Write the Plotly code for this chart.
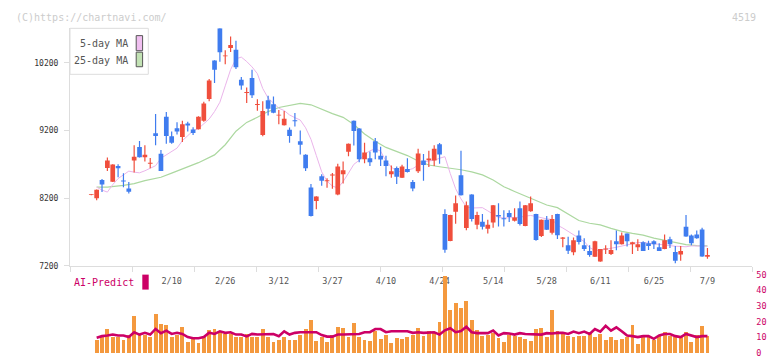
import plotly.graph_objects as go

# ---------------- data ----------------
opens = [8250, 8200, 8469, 8645, 8444, 8674, 8460, 8344, 8756, 8958,
         8805, 8715, 9158, 8857, 9403, 9115, 9235, 9105, 9302, 9216,
         9220, 9345, 9666, 10236, 10710, 10300, 10418, 10395, 9949, 9760,
         9978, 9583, 9135, 9647, 9590, 9425, 9278, 9211, 9350, 9043,
         8842, 8358, 8157, 8526, 8455, 8540, 8253, 8555, 8886, 9345,
         9231, 8776, 8790, 9043, 8828, 8756, 8555, 8645, 8502, 8631,
         8440, 8598, 8756, 8760, 8756, 8996, 7966, 7568, 7999, 8540,
         7760, 8253, 7808, 7851, 7750, 7841, 7951, 7900, 7980, 7865,
         8052, 7789, 8009, 7966, 7640, 7880, 7688, 7966, 7602, 7506,
         7400, 7650, 7506, 7420, 7334, 7266, 7445, 7377, 7564, 7520,
         7678, 7520, 7477, 7549, 7535, 7564, 7477, 7449, 7592, 7405,
         7367, 7779, 7650, 7664, 7736, 7334]
highs = [8260, 8330, 8483, 8800, 8700, 8703, 8570, 8440, 8982, 9044,
         8982, 8795, 9446, 8914, 9475, 9187, 9321, 9345, 9331, 9249,
         9410, 9625, 9963, 10240, 10710, 10385, 10591, 10528, 9992, 9834,
         10097, 9662, 9633, 9715, 9704, 9503, 9489, 9245, 9460, 9202,
         8851, 8411, 8230, 8555, 8493, 8574, 8709, 8742, 9010, 9350,
         9235, 9019, 8890, 9091, 8962, 8828, 8684, 8670, 8694, 8790,
         8469, 8929, 8852, 8900, 8982, 9015, 8038, 7955, 8239, 8900,
         8153, 8258, 7999, 7966, 7880, 8100, 8124, 8023, 8023, 8052,
         8153, 8100, 8225, 7970, 7885, 7937, 7951, 7970, 7625, 7631,
         7621, 7722, 7607, 7506, 7570, 7449, 7506, 7578, 7722, 7693,
         7680, 7555, 7592, 7564, 7573, 7578, 7535, 7664, 7630, 7492,
         7492, 7951, 7664, 7722, 7765, 7463]
lows = [8245, 8170, 8290, 8603, 8440, 8508, 8360, 8268, 8580, 8800,
        8742, 8641, 8982, 8603, 9005, 9005, 9140, 9029, 9187, 9134,
        9215, 9330, 9633, 9902, 10218, 10179, 10362, 10111, 9801, 9608,
        9680, 9494, 9115, 9422, 9455, 9292, 9275, 9019, 9259, 8847,
        8603, 7930, 8038, 8383, 8354, 8340, 8243, 8416, 8819, 8977,
        8732, 8718, 8675, 8776, 8675, 8526, 8502, 8411, 8500, 8579,
        8301, 8574, 8459, 8660, 8675, 8709, 7395, 7565, 7822, 8240,
        7726, 7855, 7740, 7736, 7678, 7765, 7783, 7783, 7847, 7855,
        7798, 7785, 8000, 7570, 7625, 7730, 7664, 7596, 7477, 7377,
        7358, 7516, 7420, 7334, 7330, 7262, 7377, 7362, 7430, 7515,
        7487, 7377, 7420, 7418, 7434, 7449, 7418, 7445, 7463, 7237,
        7276, 7630, 7506, 7600, 7335, 7305]
closes = [8255, 8325, 8401, 8756, 8699, 8641, 8450, 8296, 8814, 8805,
          8842, 8720, 9120, 8603, 9120, 9019, 9187, 9292, 9275, 9163,
          9403, 9601, 9939, 10097, 10356, 10306, 10462, 10136, 9867, 9765,
          9723, 9588, 9489, 9522, 9461, 9430, 9374, 9120, 9340, 8990,
          8641, 7937, 8225, 8459, 8462, 8548, 8670, 8612, 9005, 9192,
          8776, 8876, 8732, 8876, 8771, 8675, 8598, 8516, 8670, 8588,
          8344, 8862, 8689, 8785, 8929, 8847, 7439, 7951, 8124, 8243,
          8095, 7894, 7951, 7779, 7808, 8095, 7930, 7890, 7923, 7913,
          7818, 8095, 8124, 7583, 7880, 7732, 7894, 7654, 7621, 7425,
          7578, 7553, 7449, 7362, 7564, 7449, 7452, 7434, 7520, 7650,
          7564, 7549, 7520, 7420, 7492, 7520, 7420, 7578, 7520, 7276,
          7420, 7635, 7535, 7607, 7338, 7362]

volume = [None, 8.9, 10.4, 15.8, 10.8, 10.6, 8.9, 12.0, 23.6, 12.0,
          11.6, 10.8, 24.9, 18.7, 18.0, 10.6, 11.8, 16.8, 7.5, 10.6,
          6.8, 10.2, 15.1, 15.8, 14.1, 12.6, 12.6, 10.8, 10.6, 12.6,
          10.8, 10.2, 15.8, 10.8, 7.5, 8.7, 10.8, 8.7, 8.7, 12.0,
          15.8, 21.1, 8.1, 10.8, 7.5, 11.8, 16.8, 16.2, 10.8, 19.3,
          10.8, 8.7, 8.1, 14.1, 9.3, 12.0, 6.8, 10.0, 9.3, 10.8,
          12.0, 16.2, 11.2, 14.3, 13.7, 19.9, 49.1, 28.0, 32.3, 29.2,
          33.6, 21.1, 14.9, 11.2, 11.8, 13.0, 10.0, 7.5, 12.0, 11.2,
          10.6, 9.3, 8.1, 15.5, 16.2, 10.2, 27.4, 14.3, 13.7, 11.4,
          10.6, 11.2, 11.4, 13.7, 10.6, 12.4, 8.7, 10.6, 8.7, 9.5,
          10.6, 18.0, 6.2, 11.8, 10.6, 8.7, 11.4, 13.7, 11.2, 10.6,
          11.2, 13.7, 7.5, 11.8, 17.4, 11.2]

ai_predict = [None, 9.8, 10.8, 11.2, 11.8, 11.2, 11.2, 10.2, 13.3, 11.8,
              12.9, 11.8, 15.4, 12.7, 14.3, 12.2, 12.9, 12.2, 10.2, 9.5,
              9.5, 10.2, 13.0, 12.2, 13.9, 12.9, 13.3, 11.8, 11.8, 10.6,
              12.2, 11.8, 11.8, 11.8, 12.2, 10.8, 13.9, 11.8, 12.9, 13.3,
              13.3, 13.3, 13.3, 11.5, 10.5, 10.5, 11.8, 11.8, 11.8, 11.8,
              12.2, 13.3, 13.3, 15.3, 15.3, 13.3, 13.9, 13.9, 13.9, 13.9,
              12.9, 13.3, 12.9, 12.9, 13.3, 11.8, 14.5, 15.8, 13.3, 14.0,
              16.8, 13.3, 12.7, 12.7, 12.7, 14.3, 11.2, 12.7, 12.5, 11.8,
              12.7, 12.2, 12.2, 12.2, 11.8, 12.7, 12.5, 12.9, 12.9, 12.2,
              13.7, 12.7, 13.7, 12.2, 15.3, 13.7, 17.4, 14.3, 16.4, 13.9,
              11.2, 10.8, 10.2, 10.8, 10.8, 9.1, 11.2, 12.2, 12.2, 10.8,
              10.2, 12.2, 11.2, 10.2, 10.8, 10.8]

ma5_idx = list(range(1, 116))
ma5 = [8364, 8320, 8290, 8400, 8490, 8550, 8600, 8585, 8575, 8605,
       8640, 8680, 8790, 8840, 8900, 8940, 9050, 9120, 9197, 9230,
       9300, 9370, 9480, 9618, 9860, 10100, 10260, 10285, 10220, 10140,
       10040, 9820, 9680, 9600, 9530, 9495, 9430, 9390, 9355, 9240,
       9070, 8830, 8590, 8450, 8380, 8350, 8445, 8570, 8700, 8760,
       8850, 8900, 8930, 8895, 8750, 8660, 8600, 8590, 8610, 8637,
       8690, 8732, 8750, 8760, 8790, 8814, 8564, 8340, 8190, 8070,
       8055, 8062, 8060, 8013, 7960, 7915, 7908, 7910, 7912, 7918,
       7935, 7945, 7930, 7910, 7894, 7885, 7800, 7760, 7710, 7664,
       7610, 7560, 7470, 7430, 7430, 7440, 7460, 7475, 7495, 7515,
       7530, 7545, 7545, 7535, 7525, 7515, 7505, 7500, 7490, 7487,
       7482, 7495, 7498, 7492, 7490]

ma25_idx = [1, 3, 6, 8, 10, 13, 15, 18, 20, 23, 25, 27, 29, 31, 33, 35, 37,
            39, 41, 43, 45, 47, 49, 51, 53, 55, 57, 59, 61, 63, 65, 67, 69,
            71, 73, 75, 77, 79, 81, 83, 85, 87, 89, 91, 93, 95, 97, 99, 101,
            103, 105, 107, 109, 111, 113, 115]
ma25 = [8364, 8364, 8390, 8415, 8460, 8510, 8570, 8665, 8725, 8840, 8990,
        9190, 9320, 9395, 9480, 9540, 9570, 9600, 9580, 9510, 9450, 9395,
        9290, 9150, 9040, 8950, 8890, 8830, 8750, 8690, 8665, 8648, 8620,
        8590, 8545, 8470, 8370, 8300, 8230, 8170, 8100, 8060, 7970, 7870,
        7830, 7805, 7755, 7710, 7680, 7655, 7610, 7575, 7540, 7515, 7500,
        7496]

date_idx = [15, 25, 35, 45, 55, 65, 75, 85, 95, 105, 115]
date_labels = ["2/10", "2/26", "3/12", "3/27", "4/10", "4/24",
               "5/14", "5/28", "6/11", "6/25", "7/9"]

price_ticks = [7200, 8200, 9200, 10200]
price_tick_text = ["7200", "8200", "9200", "10200"]
ai_ticks = [0, 10, 20, 30, 40, 50]

# ---------------- styling ----------------
W, H = 772, 361
FONT = "DejaVu Sans Mono"
RED = "#f04e3c"
BLUE = "#3f7cef"
ORANGE = "#f4993e"
CRIMSON = "#cc0066"
AXIS = "#dddddd"


def px(x):
    return x / W


def py(y):
    return 1 - y / H


XMIN, XMAX = -3.975, 123.37
n = len(opens)
idx = list(range(n))

# wick and body segments built from the OHLC arrays
wick = {"up": ([], []), "down": ([], [])}
body = {"up": ([], []), "down": ([], [])}
MIN_BODY = 14
for i in idx:
    o, h, l, c = opens[i], highs[i], lows[i], closes[i]
    k = "up" if c >= o else "down"
    wick[k][0].extend([i, i, None])
    wick[k][1].extend([l, h, None])
    lo, hi = min(o, c), max(o, c)
    if hi - lo < MIN_BODY:
        mid = (hi + lo) / 2
        lo, hi = mid - MIN_BODY / 2, mid + MIN_BODY / 2
    body[k][0].extend([i, i, None])
    body[k][1].extend([lo, hi, None])

fig = go.Figure()
fig.add_trace(go.Scatter(x=ma25_idx, y=ma25, mode="lines",
                         line=dict(color="#acd8a0", width=1.2),
                         xaxis="x", yaxis="y", hoverinfo="skip"))
fig.add_trace(go.Scatter(x=ma5_idx, y=ma5, mode="lines",
                         line=dict(color="#eab4ea", width=1),
                         xaxis="x", yaxis="y", hoverinfo="skip"))
for k, col in (("up", RED), ("down", BLUE)):
    fig.add_trace(go.Scatter(x=wick[k][0], y=wick[k][1], mode="lines",
                             line=dict(color=col, width=1.2),
                             xaxis="x", yaxis="y", hoverinfo="skip"))
for k, col in (("up", RED), ("down", BLUE)):
    fig.add_trace(go.Scatter(x=body[k][0], y=body[k][1], mode="lines",
                             line=dict(color=col, width=4.7),
                             xaxis="x", yaxis="y", hoverinfo="skip"))

fig.add_trace(go.Bar(x=idx, y=volume, width=0.72,
                     marker=dict(color=ORANGE, line=dict(width=0)),
                     xaxis="x2", yaxis="y2", hoverinfo="skip"))
fig.add_trace(go.Scatter(x=idx, y=ai_predict, mode="lines",
                         line=dict(color=CRIMSON, width=2.6),
                         xaxis="x2", yaxis="y2", hoverinfo="skip"))

dom_x = [px(70), px(752.3)]
step = (XMAX - XMIN) / 11
frame_ticks = [XMIN + k * step for k in range(12)]

fig.update_layout(
    width=W, height=H,
    margin=dict(l=0, r=0, t=0, b=0),
    paper_bgcolor="white", plot_bgcolor="white",
    showlegend=False,
    font=dict(family=FONT),
    xaxis=dict(domain=dom_x, range=[XMIN, XMAX], anchor="y",
               showline=True, linecolor=AXIS, linewidth=1,
               ticks="outside", ticklen=5, tickcolor=AXIS,
               tickvals=frame_ticks, showticklabels=False,
               showgrid=False, zeroline=False, fixedrange=True),
    yaxis=dict(domain=[py(268.3), py(24)], range=[7200, 10710], anchor="x",
               showline=True, linecolor=AXIS, linewidth=1,
               ticks="outside", ticklen=5, tickcolor=AXIS,
               tickvals=price_ticks, ticktext=price_tick_text,
               ticklabelstandoff=4,
               tickfont=dict(family=FONT, size=8, color="#333333"),
               showgrid=False, zeroline=False),
    xaxis2=dict(domain=dom_x, range=[XMIN, XMAX], anchor="free",
                position=py(277.5), side="bottom",
                tickvals=date_idx, ticktext=date_labels, ticks="",
                tickfont=dict(family=FONT, size=8.5, color="#555555"),
                showline=False, showgrid=False, zeroline=False,
                layer="below traces"),
    yaxis2=dict(domain=[py(358), py(277.3)], range=[0, 50], anchor="x2",
                side="right", tickvals=ai_ticks, ticks="",
                ticklabelstandoff=3,
                tickfont=dict(family=FONT, size=8.5, color=CRIMSON),
                showline=False, showgrid=False, zeroline=False),
    bargap=0,
)

shapes = [
    dict(type="rect", xref="paper", yref="paper",
         x0=px(70), x1=px(148.3), y0=py(71.3), y1=py(24),
         line=dict(color=AXIS, width=1), fillcolor="white", layer="above"),
    dict(type="rect", xref="paper", yref="paper",
         x0=px(136.2), x1=px(142.6), y0=py(47), y1=py(31.5),
         line=dict(color="#555555", width=1), fillcolor="#f0bff0"),
    dict(type="rect", xref="paper", yref="paper",
         x0=px(136.2), x1=px(142.6), y0=py(63.5), y1=py(48.5),
         line=dict(color="#555555", width=1), fillcolor="#c2e2b4"),
    dict(type="rect", xref="paper", yref="paper",
         x0=px(142.3), x1=px(148.7), y0=py(292.7), y1=py(277.3),
         line=dict(width=0), fillcolor=CRIMSON),
]
fig.update_layout(shapes=shapes)

ann = [
    dict(text="(C)https://chartnavi.com/", x=px(14), y=py(12.5),
         xanchor="left", yanchor="middle",
         font=dict(family=FONT, size=10, color="#cccccc")),
    dict(text="4519", x=px(757.5), y=py(12.5), xanchor="right", yanchor="middle",
         font=dict(family=FONT, size=10, color="#cccccc")),
    dict(text="5-day MA", x=px(130), y=py(40), xanchor="right", yanchor="middle",
         font=dict(family=FONT, size=10, color="#555555")),
    dict(text="25-day MA", x=px(130), y=py(57.3), xanchor="right", yanchor="middle",
         font=dict(family=FONT, size=10, color="#555555")),
    dict(text="AI-Predict", x=px(135.5), y=py(285.7), xanchor="right",
         yanchor="middle", font=dict(family=FONT, size=10, color=CRIMSON)),
]
for a in ann:
    a.update(xref="paper", yref="paper", showarrow=False)
fig.update_layout(annotations=ann)

fig.write_html("out.html")
